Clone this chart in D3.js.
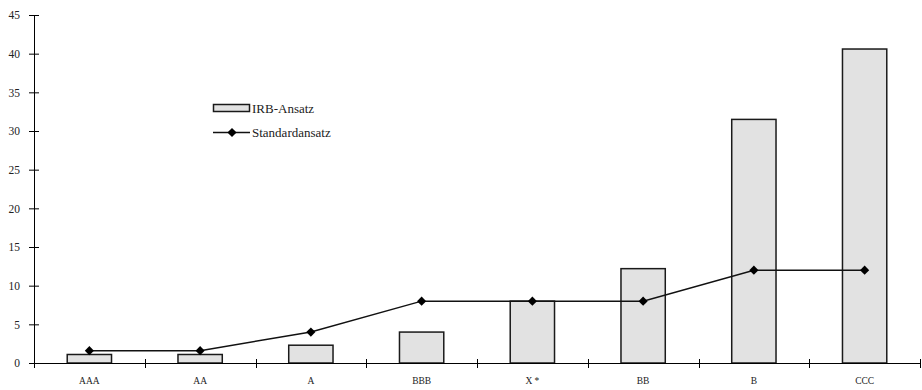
<!DOCTYPE html>
<html>
<head>
<meta charset="utf-8">
<script src="https://cdn.jsdelivr.net/npm/d3@7"></script>
<style>
  body { margin: 0; background: #fff; }
  text { font-family: "Liberation Serif", "DejaVu Serif", serif; fill: #222; }
</style>
</head>
<body>
<div id="chart"></div>
<script>
// data
var categories = ["AAA", "AA", "A", "BBB", "X *", "BB", "B", "CCC"];
var irbValues = [1.1, 1.1, 2.3, 4.0, 8.0, 12.2, 31.5, 40.6];
var standardValues = [1.6, 1.6, 4.0, 8.0, 8.0, 8.0, 12.0, 12.0];
var yTicks = [0, 5, 10, 15, 20, 25, 30, 35, 40, 45];

var margin = {top: 15, right: 2, bottom: 27, left: 34},
    width = 922 - margin.left - margin.right,
    height = 390 - margin.top - margin.bottom;

var svg = d3.select("#chart")
  .append("svg")
    .attr("width", 922)
    .attr("height", 390)
  .append("g")
    .attr("transform", "translate(" + margin.left + "," + margin.top + ")");

var x = d3.scaleBand()
    .domain(categories)
    .range([0, 886]);

var y = d3.scaleLinear()
    .domain([0, 45])
    .range([height, 0]);

// bars
var barW = x.bandwidth() * 0.4;
svg.selectAll("rect.bar")
    .data(irbValues)
    .enter()
    .append("rect")
      .attr("class", "bar")
      .attr("x", function(d, i) { return x(categories[i]) + x.bandwidth() / 2 - barW / 2; })
      .attr("y", function(d) { return y(d); })
      .attr("width", barW)
      .attr("height", function(d) { return height - y(d); })
      .style("fill", "#e2e2e2")
      .style("stroke", "#1a1a1a")
      .style("stroke-width", 1.5);

// y axis
var yAxis = svg.append("g")
    .call(d3.axisLeft(y).tickValues(yTicks).tickSize(5).tickPadding(9));
yAxis.select(".domain").attr("d", "M0.5," + (height) + "V0.5").style("stroke", "#000");
yAxis.selectAll(".tick line").attr("x1", 5).attr("x2", -5).style("stroke", "#000");
yAxis.selectAll(".tick text")
    .style("font-size", "11.5px")
    .style("font-family", "'Liberation Serif', serif")
    .style("fill", "#222");

// x axis
var xAxis = svg.append("g")
    .attr("transform", "translate(0," + height + ")")
    .call(d3.axisBottom(x).tickSize(0).tickPadding(14));
xAxis.select(".domain").attr("d", "M0,0.5H886").style("stroke", "#000");
xAxis.selectAll(".tick text")
    .style("font-size", "9.5px")
    .style("font-family", "'Liberation Serif', serif")
    .style("fill", "#222");

// category separators on the x axis
var seps = d3.range(categories.length + 1);
svg.selectAll("line.sep")
    .data(seps)
    .enter()
    .append("line")
      .attr("class", "sep")
      .attr("x1", function(d) { return Math.round(d * x.step()) + 0.5; })
      .attr("x2", function(d) { return Math.round(d * x.step()) + 0.5; })
      .attr("y1", height - 4)
      .attr("y2", height + 5)
      .style("stroke", "#000");

// line series
var line = d3.line()
    .x(function(d, i) { return x(categories[i]) + x.bandwidth() / 2; })
    .y(function(d) { return y(d); });

svg.append("path")
    .datum(standardValues)
    .attr("d", line)
    .style("fill", "none")
    .style("stroke", "#111")
    .style("stroke-width", 1.5);

// square marker turned 45 degrees -> even diamond
var diamond = d3.symbol().type(d3.symbolSquare).size(42);
svg.selectAll("path.marker")
    .data(standardValues)
    .enter()
    .append("path")
      .attr("class", "marker")
      .attr("d", diamond)
      .attr("transform", function(d, i) {
        return "translate(" + (x(categories[i]) + x.bandwidth() / 2) + "," + y(d) + ") rotate(45)";
      })
      .style("fill", "#000");

// legend
var legend = d3.select("svg").append("g").attr("transform", "translate(213,104)");
legend.append("rect")
    .attr("x", 0.5).attr("y", 0.5)
    .attr("width", 36).attr("height", 7)
    .style("fill", "#e2e2e2")
    .style("stroke", "#1a1a1a")
    .style("stroke-width", 1.5);
legend.append("text")
    .attr("x", 39).attr("y", 9)
    .style("font-size", "13px")
    .text("IRB-Ansatz");
legend.append("line")
    .attr("x1", 0).attr("x2", 37)
    .attr("y1", 28.5).attr("y2", 28.5)
    .style("stroke", "#111").style("stroke-width", 1.5);
legend.append("path")
    .attr("d", diamond)
    .attr("transform", "translate(19,28.5) rotate(45)")
    .style("fill", "#000");
legend.append("text")
    .attr("x", 39).attr("y", 33)
    .style("font-size", "13px")
    .text("Standardansatz");
</script>
</body>
</html>
